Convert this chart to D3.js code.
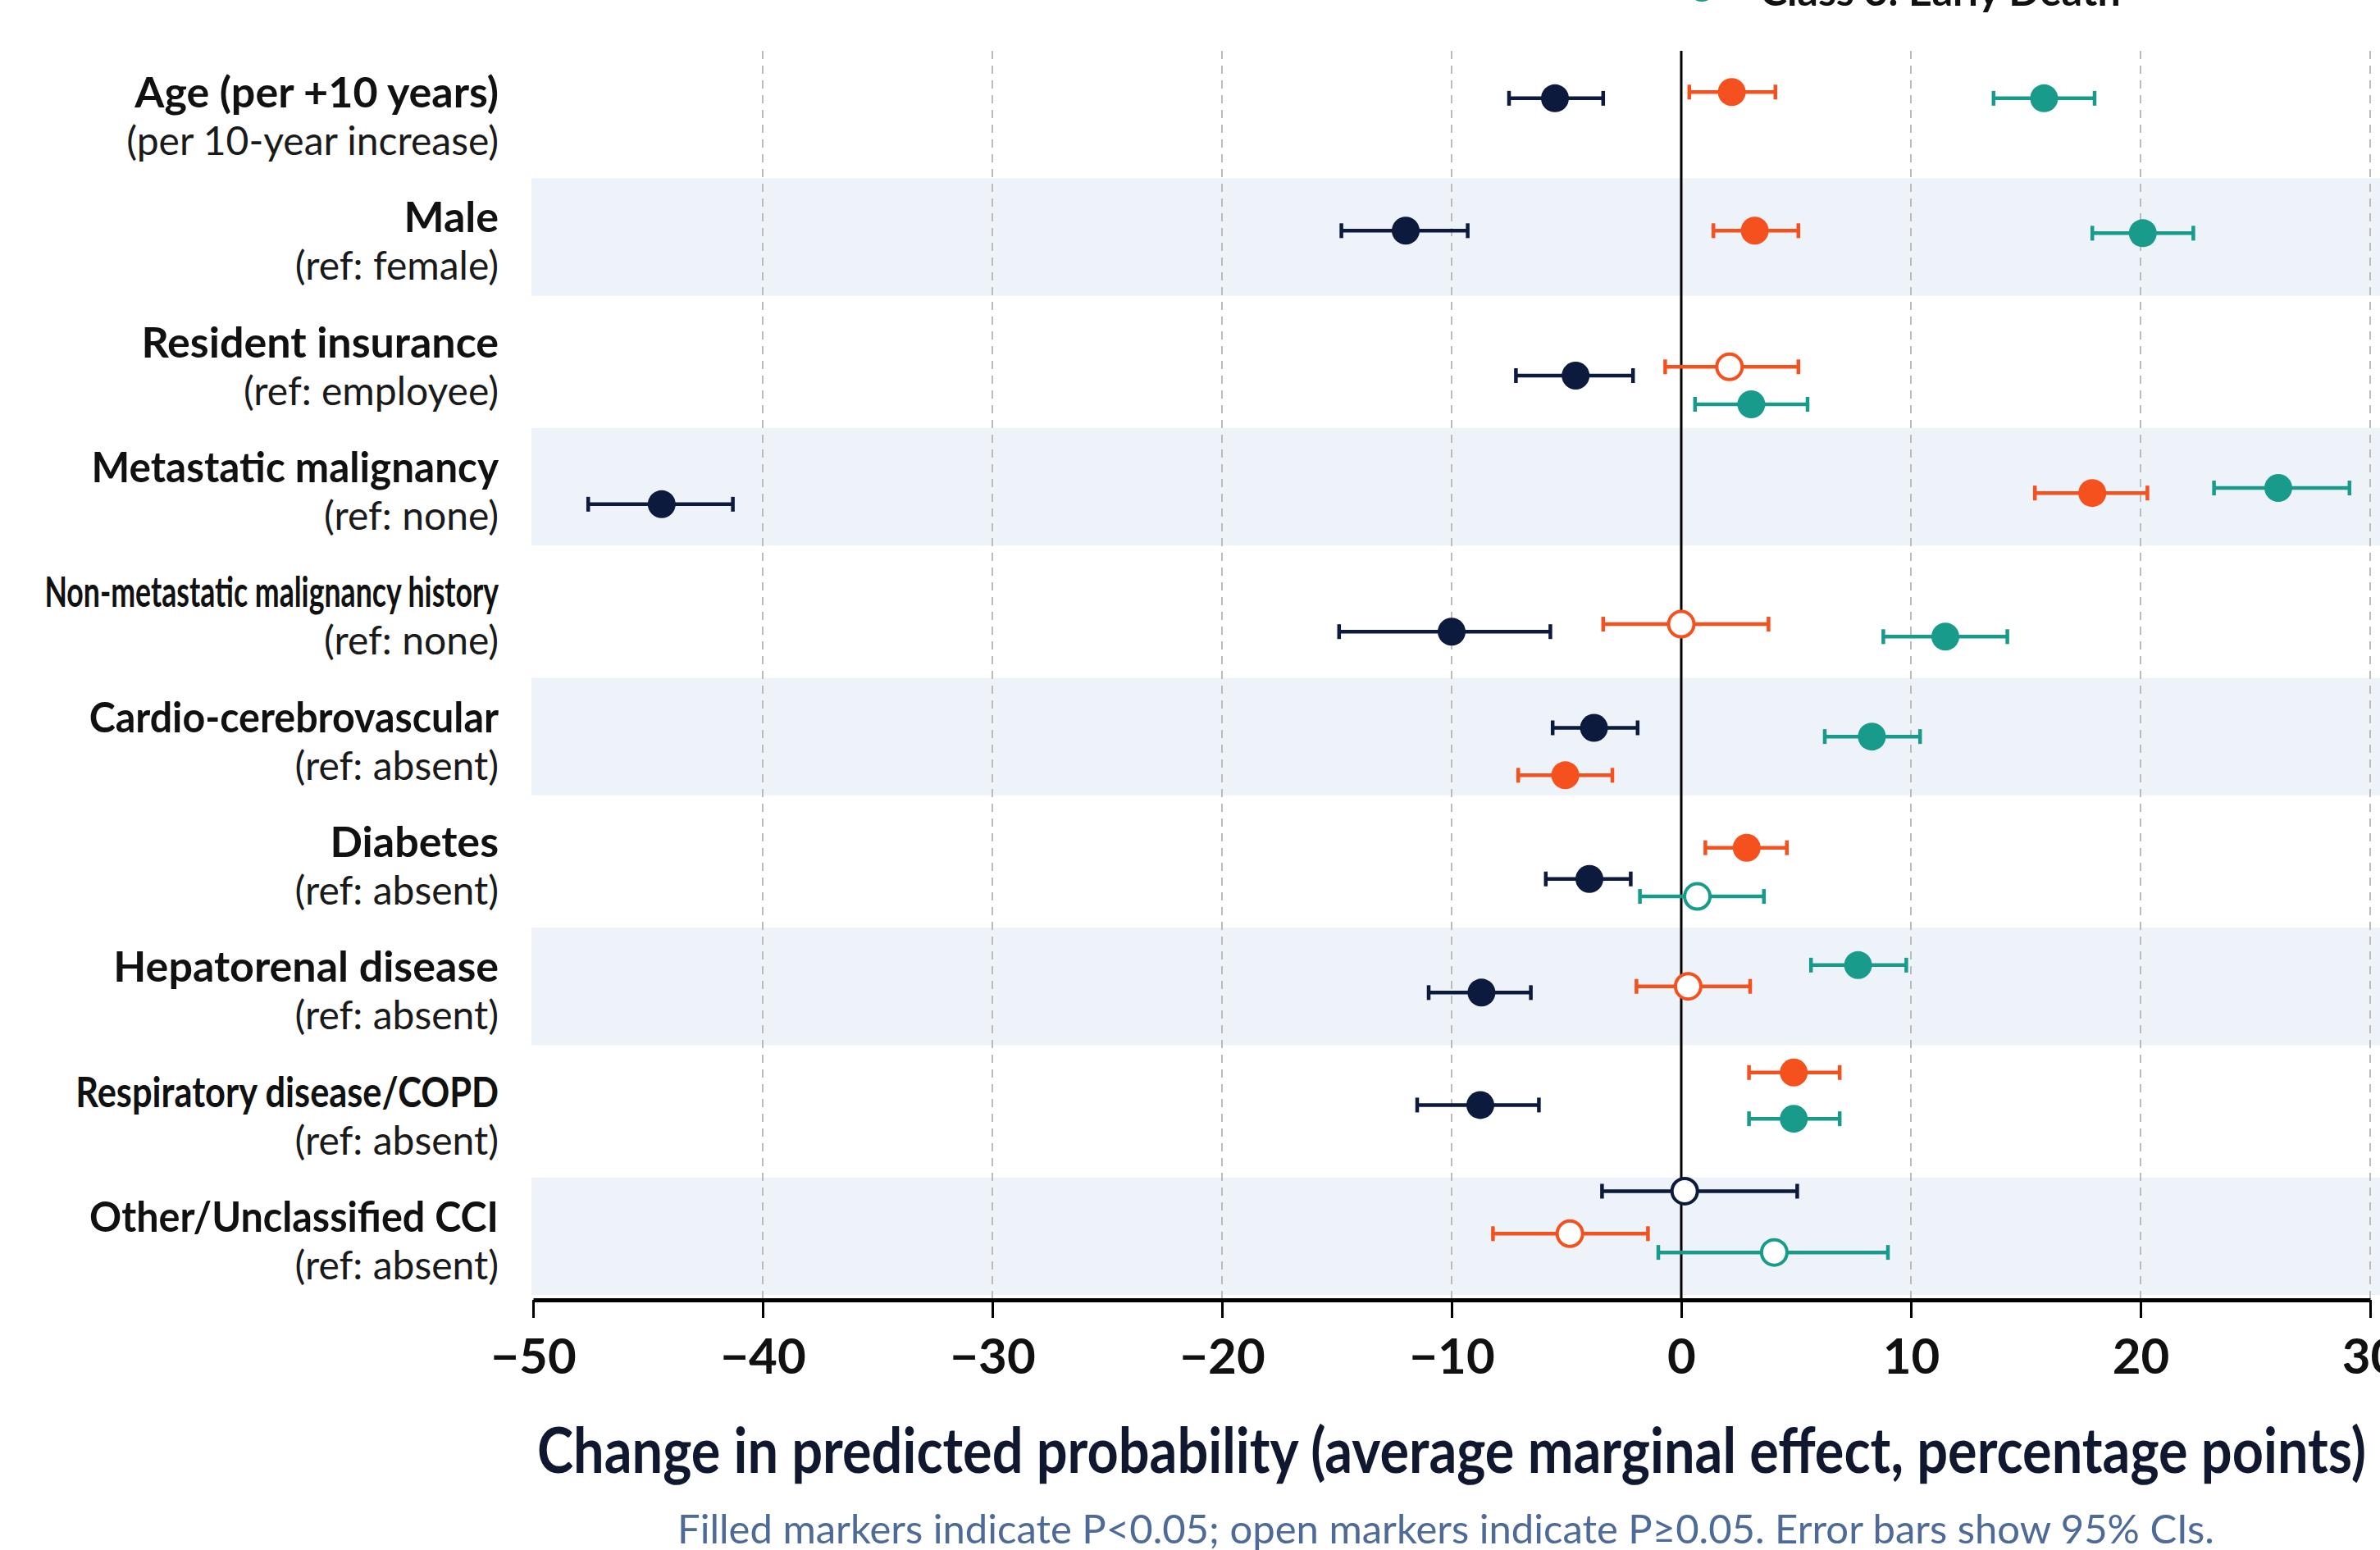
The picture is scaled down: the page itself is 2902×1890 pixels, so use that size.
<!DOCTYPE html>
<html>
<head>
<meta charset="utf-8">
<script src="https://cdn.jsdelivr.net/npm/d3@7"></script>
<style>
  body { margin: 0; background: #fff; }
  text { font-family: Lato, "Open Sans", sans-serif; }
</style>
</head>
<body>
<div class="forest-chart"></div>
<script>
// rows, top to bottom
const rowLabels = [
    "Age (per +10 years)", "Male", "Resident insurance", "Metastatic malignancy",
    "Non-metastatic malignancy history", "Cardio-cerebrovascular", "Diabetes",
    "Hepatorenal disease", "Respiratory disease/COPD", "Other/Unclassified CCI"
];
const rowRefs = [
    "(per 10-year increase)", "(ref: female)", "(ref: employee)", "(ref: none)",
    "(ref: none)", "(ref: absent)", "(ref: absent)", "(ref: absent)",
    "(ref: absent)", "(ref: absent)"
];
const xTicks = [-50, -40, -30, -20, -10, 0, 10, 20, 30];

// average marginal effects (percentage points) with 95% CI, sig: 1 = P<0.05
// lane = small vertical dodge inside a row
const class1Est = [-5.5, -12.0, -4.6, -44.4, -10.0, -3.8, -4.0, -8.7, -8.75, 0.15];
const class1Lo  = [-7.5, -14.8, -7.2, -47.6, -14.9, -5.6, -5.9, -11.0, -11.5, -3.45];
const class1Hi  = [-3.4, -9.3, -2.1, -41.3, -5.7, -1.9, -2.2, -6.55, -6.2, 5.05];
const class1Sig = [1, 1, 1, 1, 1, 1, 1, 1, 1, 0];
const class1Lane = [-0.6, -0.3, 0.5, 0.65, 0.75, -0.4, 0.65, 0.2, -0.3, -1.85];

const class2Est = [2.2, 3.2, 2.1, 17.9, 0.0, -5.05, 2.85, 0.3, 4.9, -4.85];
const class2Lo  = [0.35, 1.4, -0.7, 15.4, -3.4, -7.1, 1.05, -1.95, 2.95, -8.2];
const class2Hi  = [4.1, 5.1, 5.1, 20.3, 3.8, -3.0, 4.6, 3.0, 6.9, -1.45];
const class2Sig = [1, 1, 0, 1, 0, 1, 1, 0, 1, 0];
const class2Lane = [-0.85, -0.3, 0.15, 0.2, 0.45, 1.5, -0.6, -0.05, -1.6, -0.15];

const class3Est = [15.8, 20.1, 3.05, 26.0, 11.5, 8.3, 0.7, 7.7, 4.9, 4.05];
const class3Lo  = [13.6, 17.9, 0.6, 23.2, 8.8, 6.25, -1.8, 5.65, 2.95, -1.0];
const class3Hi  = [18.0, 22.3, 5.5, 29.1, 14.2, 10.4, 3.6, 9.8, 6.9, 9.0];
const class3Sig = [1, 1, 1, 1, 1, 1, 0, 1, 1, 0];
const class3Lane = [-0.6, -0.2, 1.65, 0, 0.95, -0.05, 1.35, -0.9, 0.25, 0.6];

const series = [
    {name: "Class 1", color: "#0c1a3d", est: class1Est, lo: class1Lo, hi: class1Hi, sig: class1Sig, lane: class1Lane},
    {name: "Class 2", color: "#f4511e", est: class2Est, lo: class2Lo, hi: class2Hi, sig: class2Sig, lane: class2Lane},
    {name: "Class 3: Early Death", color: "#189b8b", est: class3Est, lo: class3Lo, hi: class3Hi, sig: class3Sig, lane: class3Lane}
];

const width = 2902;
const height = 1890;
const plotLeft = 650, plotRight = 2890, plotTop = 62, plotBottom = 1585;

const svg = d3.select(".forest-chart")
    .append("svg")
    .attr("width", width)
    .attr("height", height)
    .attr("viewBox", [0, 0, width, height]);

const x = d3.scaleLinear().domain([-50, 30]).range([plotLeft, plotRight]);
const y = d3.scaleBand().domain(rowLabels).range([plotTop, plotBottom]);
const lane = d3.scaleLinear().domain([-1, 1]).range([-y.bandwidth() * 0.2, y.bandwidth() * 0.2]);
const rowMid = d => y(d) + y.bandwidth() / 2;

// alternate shaded rows
svg.append("g")
    .selectAll("rect")
    .data(rowLabels.filter((d, i) => i % 2 === 1))
    .join("rect")
    .attr("x", plotLeft - 2)
    .attr("width", width - plotLeft + 2)
    .attr("y", d => y(d) + 3)
    .attr("height", y.bandwidth() - 9)
    .attr("fill", "#eef3f9");

// dashed grid
svg.append("g")
    .selectAll("line")
    .data(xTicks.filter(t => t !== 0 && t !== -50))
    .join("line")
    .attr("x1", d => x(d))
    .attr("x2", d => x(d))
    .attr("y1", plotTop)
    .attr("y2", plotBottom)
    .attr("stroke", "#bcbcbc")
    .attr("stroke-width", 2)
    .attr("stroke-dasharray", "10,8");

svg.append("line")
    .attr("x1", x(0)).attr("x2", x(0))
    .attr("y1", plotTop).attr("y2", plotBottom)
    .attr("stroke", "#000")
    .attr("stroke-width", 3);

// x axis
const xAxis = svg.append("g")
    .attr("transform", `translate(0,${plotBottom})`)
    .call(d3.axisBottom(x).tickValues(xTicks).tickSize(22).tickSizeOuter(0).tickPadding(25));
xAxis.select(".domain").attr("stroke", "#000").attr("stroke-width", 5);
xAxis.selectAll(".tick line").attr("stroke", "#000").attr("stroke-width", 3);
xAxis.selectAll(".tick text")
    .attr("fill", "#111")
    .style("font-family", "Lato, sans-serif")
    .style("font-size", "60px")
    .style("font-weight", "700");

svg.append("text")
    .attr("x", (plotLeft + plotRight) / 2)
    .attr("y", 1796)
    .attr("text-anchor", "middle")
    .attr("textLength", plotRight - plotLeft - 10)
    .attr("lengthAdjust", "spacingAndGlyphs")
    .attr("fill", "#101830")
    .style("font-size", "76px")
    .style("font-weight", "700")
    .text("Change in predicted probability (average marginal effect, percentage points)");

svg.append("text")
    .attr("x", 1763)
    .attr("y", 1882)
    .attr("text-anchor", "middle")
    .attr("fill", "#4d6a98")
    .style("font-size", "49px")
    .text("Filled markers indicate P<0.05; open markers indicate P≥0.05. Error bars show 95% CIs.");

// row labels
const labels = svg.append("g")
    .selectAll("g")
    .data(rowLabels)
    .join("g");

labels.append("text")
    .attr("x", 608)
    .attr("y", d => rowMid(d) - 7)
    .attr("text-anchor", "end")
    .attr("fill", "#111")
    .style("font-size", "52px")
    .style("font-weight", "700")
    .text(d => d)
    .each(function() {
        const w = this.getComputedTextLength();
        if (w > 490) {
            d3.select(this)
                .attr("textLength", 490 + (w - 490) * 0.2)
                .attr("lengthAdjust", "spacingAndGlyphs");
        }
    });

labels.append("text")
    .attr("x", 608)
    .attr("y", d => rowMid(d) + 51)
    .attr("text-anchor", "end")
    .attr("fill", "#1a1a1a")
    .style("font-size", "48px")
    .text((d, i) => rowRefs[i]);

// points with error bars
const points = series.flatMap(s => rowLabels.map((r, i) => ({
    row: r, color: s.color, est: s.est[i], lo: s.lo[i], hi: s.hi[i], sig: s.sig[i], lane: s.lane[i]
})));
const cy = d => rowMid(d.row) + lane(d.lane);

const pt = svg.append("g")
    .selectAll("g")
    .data(points)
    .join("g")
    .attr("stroke", d => d.color)
    .attr("stroke-width", 4.5);

pt.append("line")
    .attr("x1", d => x(d.lo))
    .attr("x2", d => x(d.hi))
    .attr("y1", cy)
    .attr("y2", cy);
pt.append("line")
    .attr("x1", d => x(d.lo)).attr("x2", d => x(d.lo))
    .attr("y1", d => cy(d) - 9).attr("y2", d => cy(d) + 9);
pt.append("line")
    .attr("x1", d => x(d.hi)).attr("x2", d => x(d.hi))
    .attr("y1", d => cy(d) - 9).attr("y2", d => cy(d) + 9);
pt.append("circle")
    .attr("cx", d => x(d.est))
    .attr("cy", cy)
    .attr("r", d => d.sig ? 17 : 15.5)
    .attr("fill", d => d.sig ? d.color : "#fff")
    .attr("stroke-width", d => d.sig ? 0 : 4);

// legend (only the last entry reaches into the picture)
const last = series[2];
svg.append("circle")
    .attr("cx", 2075)
    .attr("cy", -15)
    .attr("r", 17)
    .attr("fill", last.color);
svg.append("text")
    .attr("x", 2146)
    .attr("y", 7)
    .attr("fill", "#111")
    .style("font-size", "50px")
    .style("font-weight", "700")
    .text(last.name);
</script>
</body>
</html>
